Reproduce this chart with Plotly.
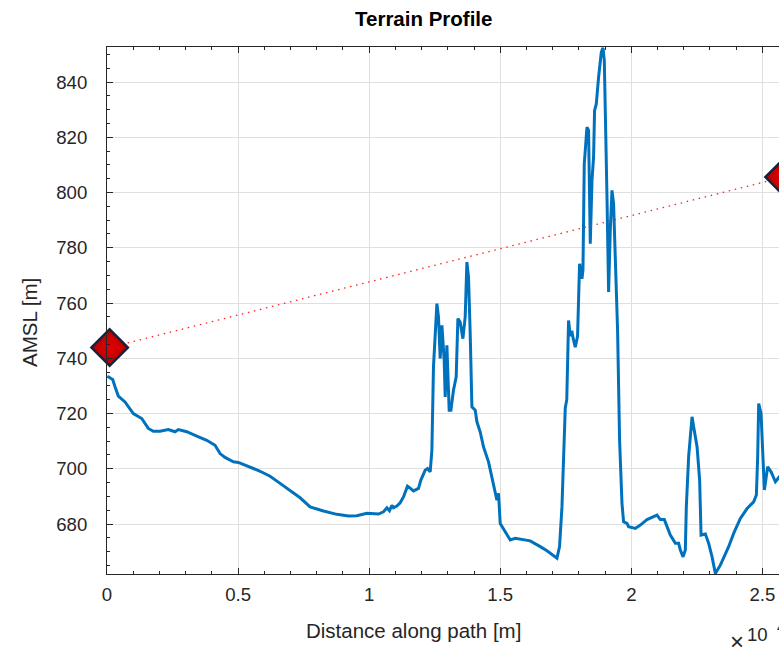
import numpy as np
import plotly.graph_objects as go

# Terrain profile: distance along path [m] and elevation AMSL [m]
distance_m = [11, 115, 218, 309, 431, 687, 1004, 1325, 1450, 1576, 1767, 2023, 2340, 2595, 2721,
              3042, 3424, 3805, 4122, 4313, 4504, 4821, 5011, 5332, 5584, 5840, 6221, 6603, 7049,
              7366, 7748, 8256, 8767, 9210, 9531, 9912, 10355, 10546, 10676, 10775, 10866, 10928,
              11057, 11183, 11309, 11462, 11565, 11691, 11882, 11973, 12137, 12225, 12328, 12393,
              12454, 12584, 12645, 12710, 12775, 12862, 12901, 12965, 13053, 13118, 13217, 13320,
              13385, 13473, 13576, 13664, 13729, 13790, 13855, 13920, 14046, 14111, 14237, 14363,
              14553, 14744, 14874, 14935, 15000, 15191, 15382, 15573, 16145, 16527, 16783, 17164,
              17263, 17355, 17416, 17481, 17538, 17576, 17607, 17672, 17729, 17786, 17863, 17950,
              18027, 18118, 18156, 18206, 18309, 18370, 18435, 18500, 18561, 18599, 18664, 18752,
              18855, 18920, 18970, 19073, 19134, 19198, 19263, 19324, 19389, 19477, 19553, 19645,
              19706, 19836, 19897, 20153, 20344, 20599, 20981, 21107, 21260, 21363, 21489, 21680,
              21806, 21871, 21974, 22061, 22099, 22187, 22279, 22317, 22378, 22443, 22508, 22607,
              22661, 22825, 22951, 23081, 23206, 23397, 23523, 23714, 23905, 24160, 24416, 24668,
              24771, 24821, 24859, 24950, 25076, 25202, 25332, 25496, 25649, 25802]
elevation_m = [733.5, 733.0, 732.3, 729.6, 726.3, 724.2, 720.0, 718.2, 716.4, 714.6, 713.6, 713.6,
               714.2, 713.4, 714.2, 713.4, 711.8, 710.3, 708.5, 705.5, 704.1, 702.5, 702.3, 700.9,
               700.1, 699.1, 697.3, 694.7, 691.7, 689.5, 686.2, 684.7, 683.5, 682.9, 683.0, 683.9,
               683.6, 684.4, 685.9, 684.8, 686.8, 685.9, 686.5, 687.7, 689.8, 693.7, 693.0, 692.0,
               692.9, 695.9, 699.5, 700.1, 698.9, 706.7, 736.9, 759.8, 755.0, 739.9, 751.9, 739.3,
               726.0, 744.7, 721.2, 721.2, 728.4, 733.2, 754.4, 753.1, 747.1, 755.0, 774.8, 769.4,
               748.9, 722.4, 721.2, 717.0, 713.3, 707.9, 702.5, 694.7, 688.6, 691.1, 680.2, 677.2,
               674.2, 674.8, 673.9, 671.8, 670.3, 667.6, 671.8, 686.2, 705.0, 722.0, 725.0, 745.0,
               753.7, 748.0, 750.0, 747.0, 744.0, 748.0, 774.2, 768.8, 772.0, 810.4, 823.7, 822.5,
               781.5, 804.4, 812.8, 829.7, 832.1, 841.7, 850.8, 852.4, 847.8, 798.3, 764.0, 786.3,
               800.8, 796.0, 774.2, 750.0, 710.4, 687.4, 680.8, 680.2, 679.0, 678.4, 679.6, 681.6,
               683.2, 681.6, 681.6, 679.0, 676.0, 673.0, 673.0, 670.6, 668.1, 670.6, 686.2, 704.3,
               714.0, 718.8, 715.2, 712.2, 708.0, 695.9, 676.0, 676.4, 673.0, 668.1, 662.1, 665.1,
               667.6, 671.8, 676.6, 682.0, 685.6, 688.0, 690.5, 704.3, 723.6, 720.0, 692.3, 700.7,
               698.9, 695.3, 697.1, 699.0]

# Antenna endpoints (distance [m], height AMSL [m])
antenna_distance_m = [100, 25810]
antenna_height_m = [743.9, 805.6]

x_tick_labels = ["0", "0.5", "1", "1.5", "2", "2.5"]
y_tick_values = [680, 700, 720, 740, 760, 780, 800, 820, 840]

SCALE = 1e4
FONT = "Liberation Sans, Arial, Helvetica, sans-serif"
AX = "#262626"

# The figure is wider than the 779 px window; the window crops its right side,
# as in the reference picture.
FIG_W, FIG_H = 800, 649
X_MAX = 2.5825
ML, MT, MB = 107, 47, 75
PW = 262 * X_MAX          # plot width in px
MR = FIG_W - ML - PW
PH = FIG_H - MT - MB


def px(xp):
    return (xp - ML) / PW


def py(yp):
    return (FIG_H - MB - yp) / PH


fig = go.Figure()
fig.add_trace(go.Scatter(x=np.array(distance_m) / SCALE, y=elevation_m, mode="lines",
                         line=dict(color="#0072BD", width=3), showlegend=False))
fig.add_trace(go.Scatter(x=np.array(antenna_distance_m) / SCALE, y=antenna_height_m, mode="lines",
                         line=dict(color="#FF2020", width=1.3, dash="1.5px,4.7px"), showlegend=False))
fig.add_trace(go.Scatter(x=np.array(antenna_distance_m) / SCALE, y=antenna_height_m, mode="markers",
                         marker=dict(symbol="diamond", size=28, color="#B00000",
                                     gradient=dict(type="radial", color="#E80000"),
                                     line=dict(color="#15233F", width=2.5)),
                         cliponaxis=False, showlegend=False))

fig.update_layout(
    width=FIG_W, height=FIG_H,
    margin=dict(l=ML, r=MR, t=MT, b=MB, pad=0),
    paper_bgcolor="white", plot_bgcolor="white",
    font=dict(family=FONT, color=AX, size=18.6),
    xaxis=dict(range=[0, X_MAX], tickmode="array", tickvals=[0, 0.5, 1, 1.5, 2, 2.5],
               ticktext=x_tick_labels, ticks="inside", ticklen=6, tickcolor=AX, tickwidth=1,
               showline=True, linecolor=AX, linewidth=1, mirror="allticks",
               showgrid=True, gridcolor="#DFDFDF", gridwidth=1, zeroline=False,
               ticklabelstandoff=4, tickfont=dict(size=18.6, color=AX, family=FONT),
               minor=dict(dtick=0.1, tick0=0, ticks="inside", ticklen=3, tickcolor=AX, showgrid=False)),
    yaxis=dict(range=[661.9, 852.7], tickmode="array", tickvals=y_tick_values,
               ticks="inside", ticklen=6, tickcolor=AX, tickwidth=1,
               showline=True, linecolor=AX, linewidth=1, mirror=False,
               showgrid=True, gridcolor="#DFDFDF", gridwidth=1, zeroline=False,
               ticklabelstandoff=15, tickfont=dict(size=18.6, color=AX, family=FONT),
               minor=dict(dtick=5, tick0=0, ticks="inside", ticklen=3, tickcolor=AX, showgrid=False)),
    annotations=[
        dict(text="<b>Terrain Profile</b>", xref="paper", yref="paper", x=px(423), y=py(19),
             xanchor="center", yanchor="middle", showarrow=False,
             font=dict(size=20.5, color="#000000", family=FONT)),
        dict(text="Distance along path [m]", xref="paper", yref="paper", x=px(413), y=py(630),
             xanchor="center", yanchor="middle", showarrow=False,
             font=dict(size=20.5, color=AX, family=FONT)),
        dict(text="AMSL [m]", xref="paper", yref="paper", x=px(29), y=py(322),
             xanchor="center", yanchor="middle", textangle=-90, showarrow=False,
             font=dict(size=20.5, color=AX, family=FONT)),
        dict(text="×", xref="paper", yref="paper", x=px(737), y=py(641),
             xanchor="center", yanchor="middle", showarrow=False,
             font=dict(size=24, color=AX, family=FONT)),
        dict(text="10", xref="paper", yref="paper", x=px(757), y=py(634),
             xanchor="center", yanchor="middle", showarrow=False,
             font=dict(size=18.6, color=AX, family=FONT)),
        dict(text="4", xref="paper", yref="paper", x=px(775), y=py(627),
             xanchor="left", yanchor="middle", showarrow=False,
             font=dict(size=14, color=AX, family=FONT)),
    ],
)

fig.write_html("out.html", config={"displayModeBar": False},
               post_script="document.body.style.margin='0';document.body.style.overflow='hidden';")
